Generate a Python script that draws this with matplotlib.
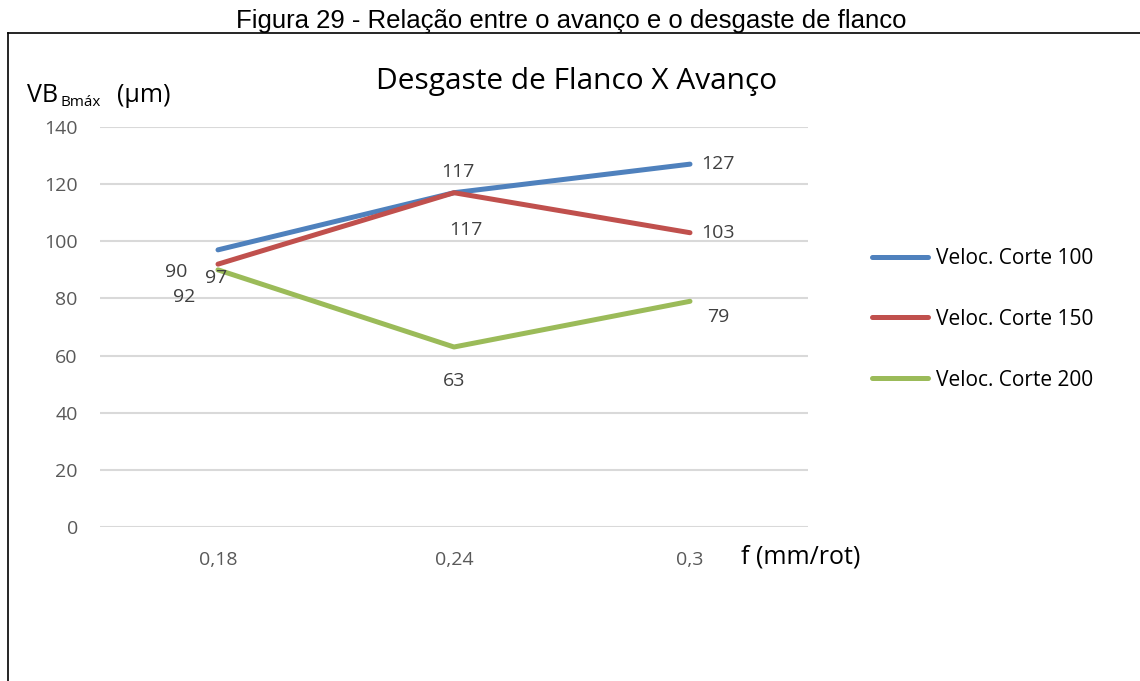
import matplotlib
matplotlib.use("Agg")
import matplotlib.pyplot as plt
from matplotlib.lines import Line2D

categories = ["0,18", "0,24", "0,3"]
v100 = [97, 117, 127]
v150 = [92, 117, 103]
v200 = [90, 63, 79]
series_names = ["Veloc. Corte 100", "Veloc. Corte 150", "Veloc. Corte 200"]
colors = ["#4f81bd", "#c0504d", "#9bbb59"]
yticks = [0, 20, 40, 60, 80, 100, 120, 140]

# label offsets in pixels (dx, dy) relative to points
offsets = [
    [(-2, -28), (4, 21), (28, 0)],
    [(-34, -33), (12, -37), (28, 0)],
    [(-42, -2), (0, -34), (28, -16)],
]

W, H = 1140, 681
fig = plt.figure(figsize=(W / 100, H / 100), dpi=100)
font = "Open Sans"

def fx(px):
    return px / W

def fy(py):
    return 1 - py / H

ax = fig.add_axes([fx(100), fy(527), fx(808) - fx(100), fy(127) - fy(527)])
x = list(range(len(categories)))
for vals, c, name, offs in zip([v100, v150, v200], colors, series_names, offsets):
    ax.plot(x, vals, color=c, lw=3.6, label=name, solid_capstyle="round", zorder=3)
    for xi, v, (dx, dy) in zip(x, vals, offs):
        ax.annotate(str(v), (xi, v), xytext=(dx, dy), textcoords="offset pixels",
                    ha="center", va="center", fontsize=14, color="#404040",
                    family=font, zorder=4)

ax.set_xlim(-0.5, 2.5)
ax.set_ylim(0, 140)
ax.set_yticks(yticks)
ax.set_yticklabels([str(t) for t in yticks], fontsize=14, color="#595959", family=font)
ax.set_xticks(x)
ax.set_xticklabels(categories, fontsize=14, color="#595959", family=font)
ax.tick_params(length=0)
ax.tick_params(axis="x", pad=17)
ax.tick_params(axis="y", pad=16)
ax.grid(axis="y", color="#d9d9d9", lw=1.5)
ax.set_axisbelow(True)
for s in ax.spines.values():
    s.set_visible(False)

leg = fig.legend(loc="upper left", bbox_to_anchor=(fx(872), fy(248)), frameon=False,
                 prop={"family": font, "size": 15}, handlelength=2.7,
                 labelspacing=1.91, handletextpad=0.38, borderaxespad=0, borderpad=0)

fig.text(fx(571), fy(28), "Figura 29 - Relação entre o avanço e o desgaste de flanco",
         ha="center", va="baseline", fontsize=18.5, family="Liberation Sans", color="#000000")
fig.text(fx(577), fy(89), "Desgaste de Flanco X Avanço", ha="center", va="baseline",
         fontsize=21.5, family=font, color="#000000")
fig.text(fx(27), fy(102), "VB", ha="left", va="baseline", fontsize=18, family=font)
fig.text(fx(61), fy(106), "Bmáx", ha="left", va="baseline", fontsize=11, family=font)
fig.text(fx(117), fy(102), "(µm)", ha="left", va="baseline", fontsize=18, family=font)
fig.text(fx(741), fy(563), "f (mm/rot)", ha="left", va="baseline", fontsize=18, family=font)

fig.add_artist(Line2D([fx(8), fx(8)], [fy(33), 0], color="black", lw=1.2,
                      transform=fig.transFigure))
fig.add_artist(Line2D([fx(8), 1], [fy(33), fy(33)], color="black", lw=1.2,
                      transform=fig.transFigure))

fig.savefig("out.png", dpi=100)
